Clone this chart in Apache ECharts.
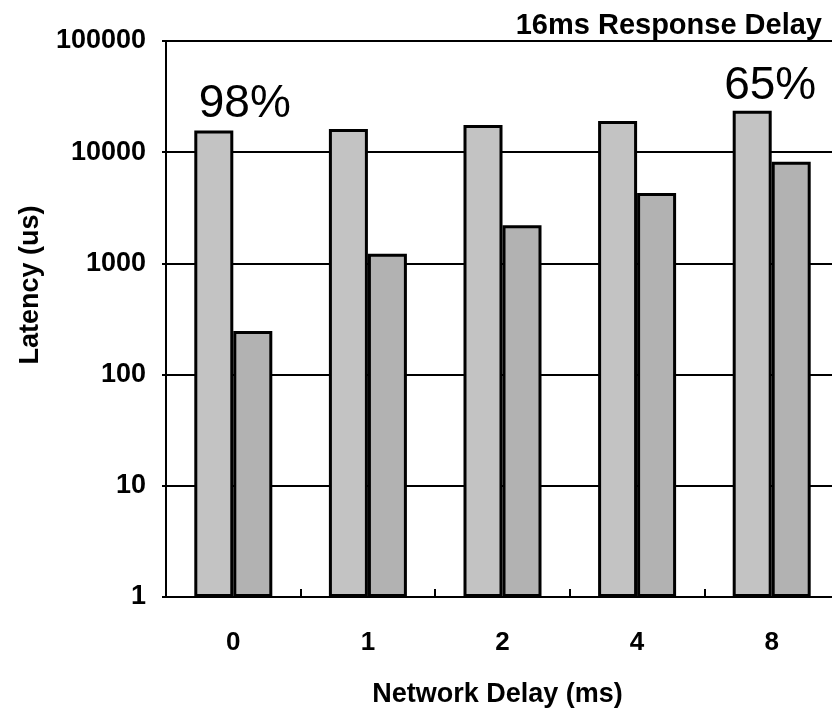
<!DOCTYPE html>
<html>
<head>
<meta charset="utf-8">
<script src="https://cdn.jsdelivr.net/npm/echarts@6/dist/echarts.min.js"></script>
<style>html,body{margin:0;padding:0;background:#fff}#c{width:832px;height:713px}</style>
</head>
<body>
<div id="c"></div>
<script>
const categories = ['0', '1', '2', '4', '8'];
const seriesA = [15700, 16200, 17600, 19100, 23600];
const seriesB = [247, 1220, 2200, 4300, 8220];
const percentLabels = ['98%', '', '', '', '65%'];
const yTicks = [1, 10, 100, 1000, 10000, 100000];

const FONT = '"Liberation Sans", Arial, sans-serif';
const chart = echarts.init(document.getElementById('c'));

const labelOffsets = [[31, 0], null, null, null, [18, 2]];
const dataA = seriesA.map((v, i) => {
  const item = { value: v };
  if (percentLabels[i]) {
    item.label = {
      show: true, position: 'top', distance: 3, formatter: percentLabels[i],
      offset: labelOffsets[i], fontSize: 46, fontFamily: FONT, color: '#000', fontWeight: 'normal'
    };
  }
  return item;
});

chart.setOption({
  animation: false,
  backgroundColor: '#fff',
  title: {
    text: '16ms Response Delay', right: 5, top: 6,
    textStyle: { fontFamily: FONT, fontWeight: 'bold', fontSize: 29, color: '#000' }
  },
  grid: { left: 166, top: 41, height: 556, width: 673, containLabel: false, outerBoundsMode: 'none' },
  xAxis: {
    type: 'category', data: categories,
    name: 'Network Delay (ms)', nameLocation: 'middle', nameGap: 84,
    nameTextStyle: { fontFamily: FONT, fontWeight: 'bold', fontSize: 27, color: '#000', padding: [0, 10, 0, 0] },
    axisLine: { lineStyle: { color: '#000', width: 2 } },
    axisTick: { show: true, inside: true, length: 8, interval: 0, lineStyle: { color: '#000', width: 2 } },
    axisLabel: { fontFamily: FONT, fontWeight: 'bold', fontSize: 26, color: '#000', margin: 33 },
    splitLine: { show: false }
  },
  yAxis: {
    type: 'log', logBase: 10, min: 1, max: 100000,
    name: 'Latency (us)', nameLocation: 'middle', nameGap: 122, nameRotate: 90,
    nameTextStyle: { fontFamily: FONT, fontWeight: 'bold', fontSize: 27, color: '#000', padding: [0, 0, 0, 68] },
    axisLine: { show: true, lineStyle: { color: '#000', width: 2 } },
    axisTick: { show: true, inside: false, length: 4, lineStyle: { color: '#000', width: 2 } },
    axisLabel: {
      fontFamily: FONT, fontWeight: 'bold', fontSize: 27, color: '#000', margin: 20,
      formatter: v => String(Math.round(v))
    },
    splitLine: { show: true, lineStyle: { color: '#000', width: 2 } },
    minorTick: { show: false }
  },
  series: [
    {
      type: 'bar', data: dataA, barWidth: 39, barGap: '0%',
      itemStyle: { color: '#c3c3c3', borderColor: '#000', borderWidth: 3 }
    },
    {
      type: 'bar', data: seriesB, barWidth: 39, barGap: '0%',
      itemStyle: { color: '#b2b2b2', borderColor: '#000', borderWidth: 3 }
    }
  ]
});
</script>
</body>
</html>
